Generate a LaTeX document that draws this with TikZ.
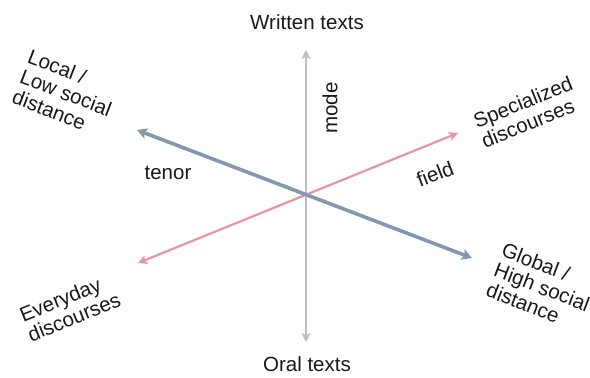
\documentclass[tikz,border=0pt]{standalone}
\usepackage{fontspec}
\setmainfont{Liberation Sans}
\usetikzlibrary{arrows.meta}
\definecolor{axgray}{RGB}{192,192,192}
\definecolor{axblue}{RGB}{132,151,176}
\definecolor{axpink}{RGB}{230,150,160}
\tikzset{
  lbl/.style={font=\fontsize{20.5}{21.5}\selectfont, inner sep=0pt, text=black!90},
  modeaxis/.style={draw=axgray, line width=2.6pt, {Stealth[length=9pt,width=9pt,inset=2pt]}-{Stealth[length=9pt,width=9pt,inset=2pt]}},
  tenoraxis/.style={draw=axblue, line width=3.6pt, {Stealth[length=10pt,width=11pt,inset=2pt]}-{Stealth[length=10pt,width=11pt,inset=2pt]}},
  fieldaxis/.style={draw=axpink, line width=2.2pt, {Stealth[length=9pt,width=9pt,inset=2pt]}-{Stealth[length=9pt,width=9pt,inset=2pt]}}
}
\begin{document}
\begin{tikzpicture}[x=1pt,y=-1pt]
\useasboundingbox[fill=white] (0,0) rectangle (590,378);
\coordinate (c) at (306,195);
\coordinate (mtop) at (306,50);
\coordinate (mbot) at (306,342);
\coordinate (tul) at (137,130);
\coordinate (tlr) at (472,258);
\coordinate (fll) at (138,263);
\coordinate (fur) at (458,133);
\draw[modeaxis] (mbot) -- (mtop);
\draw[fieldaxis] (fll) -- (fur);
\draw[tenoraxis] (tul) -- (tlr);
\node[lbl] (written) at (307,22) {Written texts};
\node[lbl] (oral) at (307,364) {Oral texts};
\node[lbl, rotate=90] (mode) at (330,108) {mode};
\node[lbl] (tenor) at (168,173) {tenor};
\node[lbl, rotate=21] (field) at (435,174) {field};
\node[lbl, rotate=-21, align=left] (local) at (66,93) {Local /\\Low social\\distance};
\node[lbl, rotate=-21, align=left] (global) at (542,287) {Global /\\High social\\distance};
\node[lbl, rotate=22, align=left] (spec) at (527,112) {Specialized\\discourses};
\node[lbl, rotate=22, align=left] (every) at (70,307) {Everyday\\discourses};
\end{tikzpicture}
\end{document}
